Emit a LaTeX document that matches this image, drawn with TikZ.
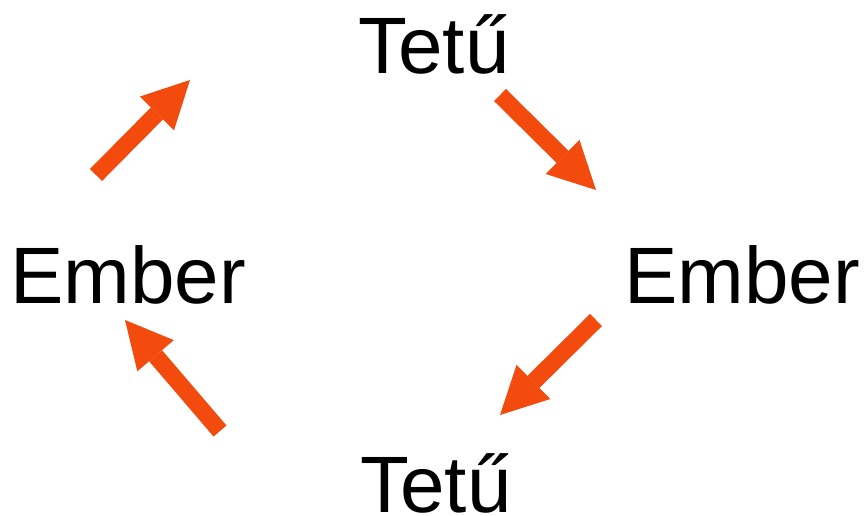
\documentclass[tikz,border=0pt]{standalone}
\usepackage{fontspec}
\setmainfont{Liberation Sans}
\usetikzlibrary{arrows.meta}
\definecolor{arrowc}{RGB}{243,74,14}
\tikzset{
  lbl/.style={anchor=base, inner sep=0pt, font=\fontsize{80}{90}\selectfont},
  arr/.style={draw=arrowc, line width=17pt,
    -{Triangle[length=47pt, width=48pt, line width=0pt, fill=arrowc, color=arrowc]}}
}
\begin{document}
\begin{tikzpicture}[x=1pt, y=-1pt]
\useasboundingbox (0,0) rectangle (864,515);
\node[lbl] (top) at (434,73) {Tetű};
\node[lbl] (bot) at (436,512) {Tetű};
\node[lbl] (left) at (128,303) {Ember};
\node[lbl] (right) at (742,303) {Ember};
\coordinate (a1s) at (96,175);  \coordinate (a1e) at (190,80);
\coordinate (a2s) at (500,95);  \coordinate (a2e) at (596,190);
\coordinate (a3s) at (596,320); \coordinate (a3e) at (500,415);
\coordinate (a4s) at (220,431); \coordinate (a4e) at (125,320);
\draw[arr] (a1s) -- (a1e);
\draw[arr] (a2s) -- (a2e);
\draw[arr] (a3s) -- (a3e);
\draw[arr] (a4s) -- (a4e);
\end{tikzpicture}
\end{document}
